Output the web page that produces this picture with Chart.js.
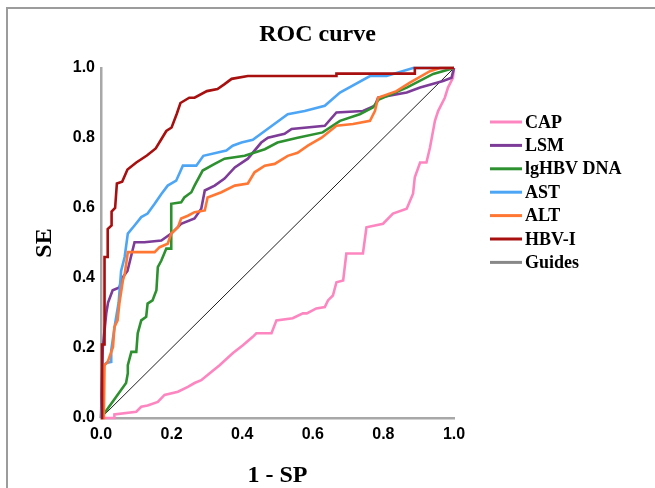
<!DOCTYPE html>
<html lang="en">
<head>
<meta charset="utf-8">
<script src="https://cdn.jsdelivr.net/npm/chart.js"></script>
<style>
  html, body { margin: 0; padding: 0; background: #fff; overflow: hidden; }
  #frame { position: absolute; left: 6px; top: 7px; width: 720px; height: 600px; border: 2px solid #9c9c9c; }
  #wrap { position: absolute; left: 0; top: 0; width: 635px; height: 488px; }
</style>
</head>
<body>
<div id="frame"></div>
<div id="wrap"><canvas id="roc" width="635" height="488"></canvas></div>
<script>
// values (x = 1 - SP, y = SE)
const seriesNames = ['CAP', 'LSM', 'lgHBV DNA', 'AST', 'ALT', 'HBV-I', 'Guides'];
const xTicks = [0, 0.2, 0.4, 0.6, 0.8, 1.0];

const capX = [0, 0.038, 0.038, 0.1, 0.114, 0.132, 0.161, 0.18, 0.218, 0.246, 0.265, 0.284, 0.308, 0.336, 0.373, 0.402, 0.43, 0.44, 0.483, 0.497, 0.543, 0.572, 0.583, 0.61, 0.634, 0.643, 0.657, 0.667, 0.686, 0.69, 0.695, 0.742, 0.747, 0.752, 0.799, 0.827, 0.866, 0.884, 0.889, 0.904, 0.922, 0.932, 0.946, 0.955, 0.974, 0.983, 0.997, 1];
const capY = [0, 0, 0.01, 0.018, 0.032, 0.036, 0.046, 0.066, 0.075, 0.089, 0.1, 0.108, 0.128, 0.151, 0.185, 0.208, 0.232, 0.242, 0.242, 0.279, 0.285, 0.299, 0.299, 0.313, 0.317, 0.336, 0.35, 0.388, 0.393, 0.427, 0.47, 0.47, 0.507, 0.545, 0.555, 0.584, 0.598, 0.641, 0.688, 0.73, 0.73, 0.773, 0.849, 0.877, 0.915, 0.944, 0.972, 1];

const lsmX = [0, 0.005, 0.01, 0.015, 0.02, 0.033, 0.052, 0.06, 0.075, 0.095, 0.123, 0.171, 0.185, 0.199, 0.227, 0.265, 0.284, 0.294, 0.322, 0.35, 0.379, 0.416, 0.454, 0.473, 0.52, 0.54, 0.634, 0.667, 0.742, 0.776, 0.785, 0.866, 0.904, 0.969, 0.993, 1];
const lsmY = [0, 0.2, 0.25, 0.3, 0.33, 0.365, 0.373, 0.4, 0.42, 0.502, 0.502, 0.507, 0.517, 0.527, 0.555, 0.57, 0.598, 0.65, 0.664, 0.684, 0.716, 0.741, 0.787, 0.801, 0.812, 0.826, 0.835, 0.873, 0.877, 0.892, 0.915, 0.93, 0.944, 0.963, 0.972, 1];

const dnaX = [0, 0.071, 0.076, 0.076, 0.086, 0.1, 0.104, 0.114, 0.128, 0.132, 0.146, 0.157, 0.161, 0.171, 0.185, 0.199, 0.199, 0.227, 0.236, 0.256, 0.265, 0.288, 0.322, 0.35, 0.407, 0.464, 0.5, 0.557, 0.628, 0.677, 0.733, 0.77, 0.787, 0.866, 0.941, 1];
const dnaY = [0, 0.1, 0.128, 0.151, 0.189, 0.189, 0.242, 0.279, 0.289, 0.327, 0.336, 0.365, 0.431, 0.45, 0.484, 0.484, 0.612, 0.616, 0.63, 0.645, 0.664, 0.707, 0.726, 0.741, 0.749, 0.768, 0.787, 0.801, 0.816, 0.849, 0.868, 0.887, 0.91, 0.944, 0.983, 1];

const astX = [0, 0.008, 0.015, 0.029, 0.029, 0.04, 0.05, 0.057, 0.067, 0.076, 0.095, 0.114, 0.132, 0.152, 0.171, 0.189, 0.213, 0.232, 0.27, 0.29, 0.355, 0.373, 0.398, 0.43, 0.464, 0.529, 0.577, 0.634, 0.677, 0.762, 0.809, 0.884, 1];
const astY = [0, 0.15, 0.157, 0.16, 0.194, 0.27, 0.33, 0.42, 0.46, 0.527, 0.55, 0.574, 0.584, 0.612, 0.64, 0.664, 0.678, 0.721, 0.721, 0.749, 0.764, 0.778, 0.787, 0.795, 0.82, 0.868, 0.877, 0.892, 0.93, 0.977, 0.977, 1, 1];

const altX = [0, 0.008, 0.01, 0.019, 0.034, 0.038, 0.047, 0.052, 0.062, 0.067, 0.076, 0.152, 0.166, 0.189, 0.199, 0.218, 0.227, 0.246, 0.265, 0.294, 0.302, 0.341, 0.379, 0.416, 0.435, 0.464, 0.492, 0.529, 0.557, 0.586, 0.625, 0.667, 0.714, 0.762, 0.776, 0.785, 0.837, 0.875, 0.932, 0.96, 1];
const altY = [0, 0, 0.151, 0.16, 0.203, 0.26, 0.279, 0.327, 0.393, 0.41, 0.474, 0.474, 0.488, 0.498, 0.527, 0.545, 0.57, 0.578, 0.588, 0.593, 0.63, 0.645, 0.664, 0.67, 0.702, 0.721, 0.726, 0.749, 0.758, 0.778, 0.801, 0.835, 0.84, 0.849, 0.877, 0.915, 0.934, 0.958, 0.991, 1, 1];

const hbviX = [0, 0.003, 0.003, 0.01, 0.01, 0.019, 0.019, 0.03, 0.03, 0.04, 0.045, 0.06, 0.075, 0.1, 0.13, 0.155, 0.17, 0.185, 0.2, 0.215, 0.225, 0.25, 0.265, 0.3, 0.33, 0.35, 0.37, 0.416, 0.667, 0.667, 0.889, 0.889, 1];
const hbviY = [0, 0, 0.21, 0.21, 0.46, 0.46, 0.54, 0.55, 0.59, 0.6, 0.67, 0.675, 0.71, 0.73, 0.75, 0.77, 0.795, 0.82, 0.83, 0.87, 0.9, 0.915, 0.915, 0.934, 0.94, 0.954, 0.969, 0.977, 0.977, 0.984, 0.984, 1, 1];

const guideX = [0, 1];
const guideY = [0, 1];

const lineColors = ['#fd86c0', '#7d3c98', '#2e9130', '#4da6f5', '#ff7733', '#a80f0f', '#1e1e1e'];
const legendColors = ['#fd86c0', '#7d3c98', '#2e9130', '#4da6f5', '#ff7733', '#a80f0f', '#888888'];

const toPoints = (xs, ys) => xs.map((x, i) => ({x: x, y: ys[i]}));
const allX = [capX, lsmX, dnaX, astX, altX, hbviX, guideX];
const allY = [capY, lsmY, dnaY, astY, altY, hbviY, guideY];
const drawOrder = [6, 5, 4, 3, 2, 1, 7];

const datasets = seriesNames.map((name, i) => ({
    label: name,
    data: toPoints(allX[i], allY[i]),
    borderColor: lineColors[i],
    backgroundColor: lineColors[i],
    borderWidth: name === 'Guides' ? 1 : 2.6,
    pointRadius: 0,
    tension: 0,
    clip: false,
    order: drawOrder[i]
}));

// legend drawn by hand so it sits where the reference has it
const sideLegend = {
    id: 'sideLegend',
    afterDraw(chart) {
        const ctx = chart.ctx;
        ctx.save();
        ctx.font = 'bold 18px "Liberation Serif", "Times New Roman", serif';
        ctx.textBaseline = 'middle';
        ctx.textAlign = 'left';
        chart.data.datasets.forEach((ds, i) => {
            const y = 122 + i * 23.4;
            ctx.strokeStyle = legendColors[i];
            ctx.lineWidth = 3;
            ctx.beginPath();
            ctx.moveTo(490, y);
            ctx.lineTo(522, y);
            ctx.stroke();
            ctx.fillStyle = '#000';
            ctx.fillText(ds.label, 525, y + 1);
        });
        ctx.restore();
    }
};

const tickFont = {family: '"Liberation Sans", Arial, sans-serif', size: 16, weight: 'bold'};
const titleFont = {family: '"Liberation Serif", "Times New Roman", serif', size: 24, weight: 'bold', lineHeight: 1};

new Chart(document.getElementById('roc'), {
    type: 'line',
    data: {datasets: datasets},
    plugins: [sideLegend],
    options: {
        responsive: false,
        animation: false,
        devicePixelRatio: 1,
        layout: {padding: 0},
        plugins: {
            legend: {display: false},
            tooltip: {enabled: false},
            title: {
                display: true,
                text: 'ROC curve',
                color: '#000',
                font: titleFont,
                padding: {top: 23, bottom: 21}
            }
        },
        scales: {
            x: {
                type: 'linear',
                min: 0,
                max: 1,
                grid: {display: false, drawTicks: false},
                border: {display: true, color: '#a8a8a8', width: 2.5},
                ticks: {
                    stepSize: 0.2,
                    autoSkip: false,
                    maxRotation: 0,
                    padding: 7,
                    color: '#000',
                    font: tickFont,
                    callback: v => xTicks.includes(+v.toFixed(1)) ? v.toFixed(1) : ''
                },
                title: {display: true, text: '1 - SP', color: '#000', font: titleFont, padding: {top: 0, bottom: 0}},
                afterFit: s => { s.height = 70; }
            },
            y: {
                type: 'linear',
                min: 0,
                max: 1,
                grid: {display: false, drawTicks: false},
                border: {display: true, color: '#a8a8a8', width: 2.5},
                ticks: {
                    stepSize: 0.2,
                    padding: 6,
                    color: '#000',
                    font: tickFont,
                    callback: v => v.toFixed(1)
                },
                title: {display: true, text: 'SE', color: '#000', font: titleFont, padding: {top: 33, bottom: 0}},
                afterFit: s => { s.width = 101; }
            },
            side: {
                type: 'linear',
                position: 'right',
                display: true,
                grid: {display: false, drawTicks: false},
                border: {display: false},
                ticks: {display: false},
                afterFit: s => { s.width = 181; }
            }
        }
    }
});
</script>
</body>
</html>
